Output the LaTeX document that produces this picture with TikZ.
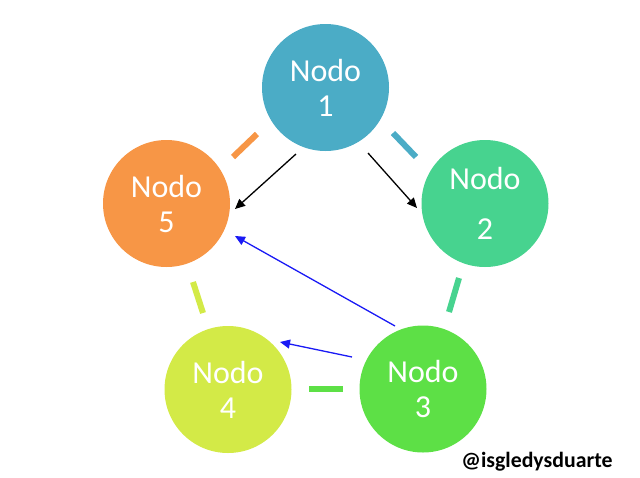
\documentclass[tikz,border=0pt]{standalone}
\usepackage{fontspec}
\setmainfont{Carlito}
\usetikzlibrary{calc,arrows.meta}
\definecolor{cone}{HTML}{4BACC6}
\definecolor{ctwo}{HTML}{47D38F}
\definecolor{cthree}{HTML}{5DE046}
\definecolor{cfour}{HTML}{D3EA47}
\definecolor{cfive}{HTML}{F79646}
\definecolor{arrblue}{HTML}{1A1AF5}
\tikzset{
  nodo/.style={circle,minimum size=127pt,inner sep=0pt,text=white,align=center,
    font=\fontsize{32}{35}\selectfont},
  bar/.style={line width=6pt,line cap=butt},
  arr/.style={line width=1.3pt,-{Triangle[length=10pt,width=9pt]}},
}
\begin{document}
\begin{tikzpicture}[x=1pt,y=-1pt]
\useasboundingbox (0,0) rectangle (640,477);
\node[nodo,fill=cone]   (n1) at (325.5,87.5)  {Nodo\\1};
\node[nodo,fill=ctwo]   (n2) at (485,203.5)   {Nodo\\[15pt]2};
\node[nodo,fill=cthree] (n3) at (423,389)     {Nodo\\3};
\node[nodo,fill=cfour]  (n4) at (228,389.5)   {Nodo\\4};
\node[nodo,fill=cfive]  (n5) at (166.5,203.5) {Nodo\\5};
% bars
\draw[bar,cfive]  ($(n1)+(-92.5,69.5)$) -- ($(n1)+(-68.5,46.5)$);
\draw[bar,cone]   ($(n1)+(67.5,45.5)$) -- ($(n1)+(90.5,69.5)$);
\draw[bar,ctwo]   ($(n2)+(-26,74.5)$) -- ($(n2)+(-36,108.5)$);
\draw[bar,cfour]  ($(n5)+(26.5,78.5)$) -- ($(n5)+(36.5,109.5)$);
\draw[bar,cthree] ($(n4)+(81,-0.5)$) -- ($(n4)+(115,-0.5)$);
% arrows
\draw[arr,black]   ($(n1)+(-29.5,66.5)$) -- ($(n5)+(68.5,5.5)$);
\draw[arr,black]   ($(n1)+(42.5,65.5)$) -- ($(n2)+(-68,4.5)$);
\draw[arr,arrblue] ($(n3)+(-28,-63)$) -- ($(n5)+(68.5,32.5)$);
\draw[arr,arrblue] ($(n3)+(-71,-32)$) -- ($(n4)+(52,-47.5)$);
\node[font=\fontsize{21.8}{24}\selectfont\bfseries,anchor=base,inner sep=0pt] (sig) at (537,467) {@isgledysduarte};
\end{tikzpicture}
\end{document}
